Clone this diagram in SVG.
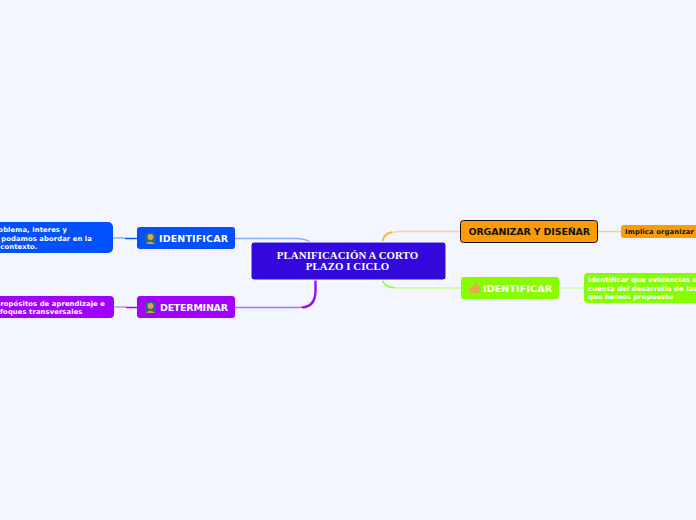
<svg xmlns="http://www.w3.org/2000/svg" width="696" height="520" viewBox="0 0 696 520">
<style>
.c{fill:none;stroke-width:1.4}
.t{font-family:"DejaVu Sans",Verdana,sans-serif;font-weight:700;font-size:9.500px;fill:#fff}
.l{font-size:6.800px;letter-spacing:.1px}
.e{text-anchor:end}
.m{font-family:"Liberation Serif","Times New Roman",serif;font-weight:700;font-size:10.800px;fill:#fff;text-anchor:middle;letter-spacing:.1px}
</style>
<rect width="696" height="520" fill="#f4f6ff"/>
<g id="connectors">
<path class="c" stroke="#8aabff" d="M235 238.500H296Q305 238.500 310 242"/>
<path class="c" stroke="#b56bf5" d="M235 307.500H298Q315 307.500 315.500 290V281"/>
<path d="M315.500 280V292Q315 307 302 307.500" fill="none" stroke="#a000f5" stroke-width="2.200"/>
<path class="c" stroke="#ffcf94" d="M460 231.500H400Q385 231.500 382.500 242"/>
<path class="c" stroke="#c8ff94" d="M461 288H400Q386 288 382.500 280"/>
<path class="c" stroke="#ffad42" d="M382.500 241Q384 233 392 232"/>
<path class="c" stroke="#88ff33" d="M382.500 281Q385 287 394 288"/>
<path class="c" stroke="#ffc98a" d="M598 231.500H621"/>
<path class="c" stroke="#c8ffa0" stroke-width="1.500" d="M559 288H584"/>
<path class="c" stroke="#8aabff" stroke-width="1.500" d="M113 238H125"/>
<path class="c" stroke="#0050ff" d="M125 238.500H137"/>
<path class="c" stroke="#c08af5" stroke-width="1.500" d="M114 307H126"/>
<path class="c" stroke="#9000e0" d="M126 307.500H137"/>
</g>
<g id="central"><rect x="251" y="242" width="195" height="38" rx="3" fill="#3208dd" stroke="#fff" stroke-width="1"/>
<text class="m" x="347.500" y="259">PLANIFICACIÓN A CORTO</text><text class="m" x="347.500" y="270">PLAZO I CICLO</text></g>
<g id="n-identificar-blue"><rect x="137" y="227" width="98" height="22" rx="3" fill="#0050ff"/>
<rect x="145" y="233" width="11" height="11" rx="2" fill="#2a6a70"/><circle cx="150.500" cy="237" r="3" fill="#d9a066"/><path d="M146 244q4-5 9 0z" fill="#c9a14a"/>
<text class="t" x="159" y="242" textLength="69">IDENTIFICAR</text></g>
<g id="n-identificar-blue-leaf"><rect x="-40" y="222" width="153" height="31" rx="5" fill="#0050ff"/>
<text class="t l e" x="67" y="232">problema, interes y</text><text class="t l e" x="92" y="241">que podamos abordar en la</text><text class="t l e" x="37.500" y="249">el contexto.</text></g>
<g id="n-determinar"><rect x="137" y="296" width="98" height="22" rx="3" fill="#a000ff"/>
<rect x="145" y="302" width="11" height="11" rx="2" fill="#2a6a70"/><circle cx="150.500" cy="306" r="3" fill="#d9a066"/><path d="M146 313q4-5 9 0z" fill="#c9a14a"/>
<text class="t" x="160" y="311" textLength="68">DETERMINAR</text></g>
<g id="n-determinar-leaf"><rect x="-40" y="296" width="154" height="22" rx="4" fill="#a000ff"/>
<text class="t l e" x="105" y="306">propósitos de aprendizaje e</text><text class="t l e" x="82.500" y="314">enfoques transversales</text></g>
<g id="n-organizar"><rect x="460.500" y="220.500" width="137" height="22" rx="3" fill="#ff9c00" stroke="#111" stroke-width="1"/>
<text class="t" x="468.500" y="235" textLength="121.500" style="fill:#111">ORGANIZAR Y DISEÑAR</text></g>
<g id="n-organizar-leaf"><rect x="621" y="225" width="90" height="13" rx="3" fill="#ff9c00"/>
<text class="t l" x="625" y="234" textLength="69" style="fill:#111">Implica organizar</text></g>
<g id="n-identificar-green"><rect x="461" y="277" width="98" height="22" rx="3" fill="#88ff00"/>
<path d="M469 293v-5h2l3-2 1-4 2 1v3h3l-1 7z" fill="#e8a850"/>
<text class="t" x="483" y="292" textLength="69">IDENTIFICAR</text></g>
<g id="n-identificar-green-leaf"><rect x="584" y="273" width="130" height="30" rx="4" fill="#88ff00"/>
<text class="t l" x="588" y="282">Identificar que evidencias o</text><text class="t l" x="588" y="291">cuenta del desarrollo de las</text><text class="t l" x="588" y="299">que hemos propuesto</text></g>
</svg>
